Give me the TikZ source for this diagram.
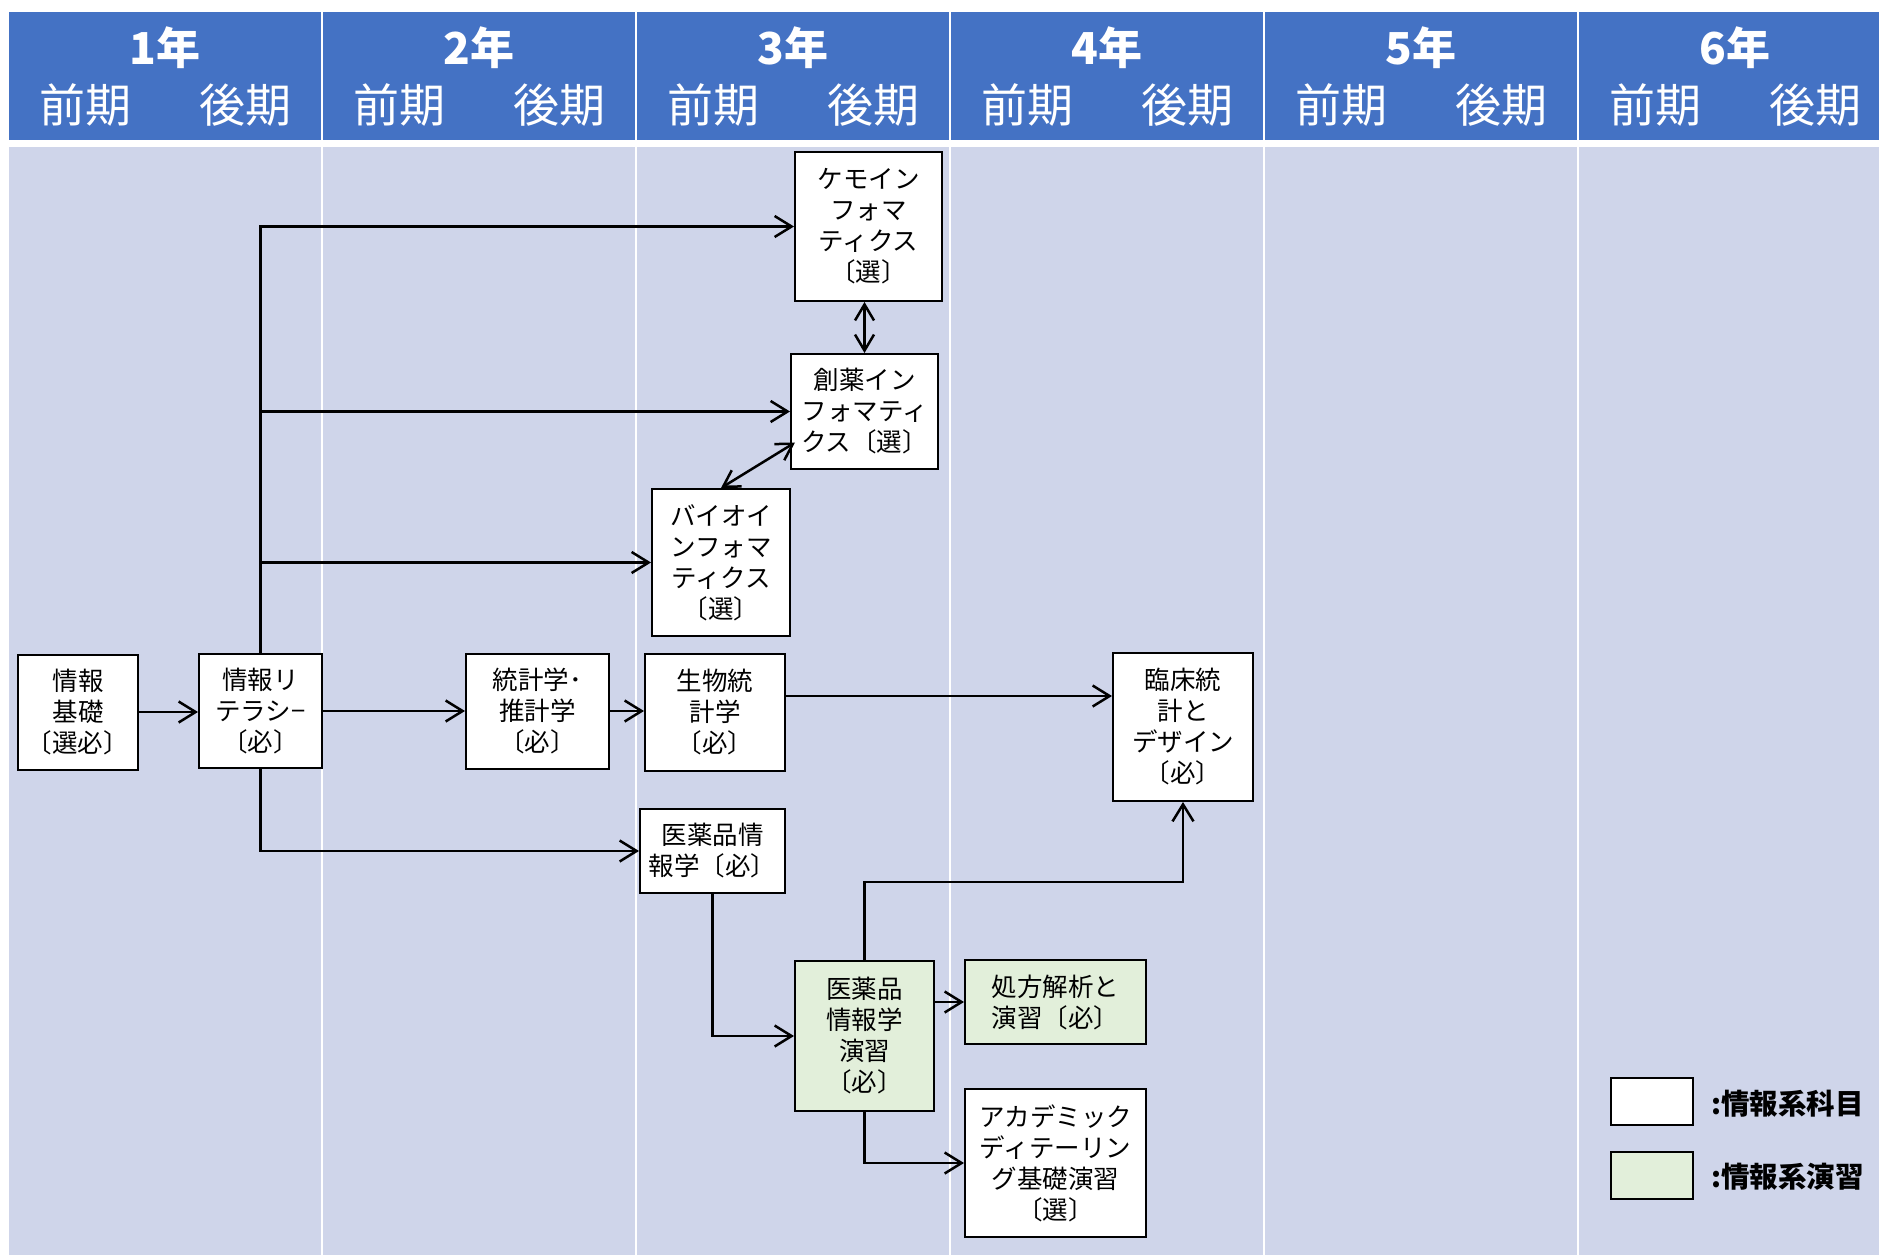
\documentclass[tikz,border=0pt]{standalone}
\usepackage{fontspec}
\setmainfont{Noto Sans CJK JP}
\usetikzlibrary{arrows.meta}
\definecolor{hdr}{HTML}{4472C4}
\definecolor{bodyc}{HTML}{CFD5EA}
\definecolor{ensc}{HTML}{E2EFDA}
\begin{document}
\begin{tikzpicture}[x=1pt,y=-1pt,
  course/.style={draw=black,line width=2pt,fill=white,align=center,inner sep=0pt,font=\fontsize{25.5}{31}\selectfont},
  practice/.style={course,fill=ensc},
  arr/.style={line width=2.5pt,-{Straight Barb[length=17pt,width=21pt]}},
  dbl/.style={line width=2.5pt,{Straight Barb[length=16pt,width=19pt]}-{Straight Barb[length=16pt,width=19pt]}},
  yeartext/.style={text=white,font=\fontsize{44}{44}\selectfont\bfseries},
  termtext/.style={text=white,font=\fontsize{46}{46}\selectfont},
  legbox/.style={draw=black,line width=2pt,minimum width=82pt,minimum height=47pt,inner sep=0pt},
  legtext/.style={anchor=west,inner sep=0pt,font=\fontsize{28.5}{28.5}\selectfont\bfseries},
]
\fill[white] (0,0) rectangle (1879,1255);
\useasboundingbox (0,0) rectangle (1879,1255);
\foreach \i in {1,...,6}{
  \pgfmathsetmacro\xa{8+314*(\i-1)}
  \fill[hdr] (\xa+1,12) rectangle (\xa+313,140);
  \fill[bodyc] (\xa+1,147) rectangle (\xa+313,1255);
  \node[yeartext] (year\i) at (\xa+157,48) {\i 年};
  \node[termtext] (zen\i) at (\xa+77,105) {前期};
  \node[termtext] (kou\i) at (\xa+237,105) {後期};
}
% courses
\node[course,minimum width=120pt,minimum height=115pt] (kiso) at (78,712) {情報\\基礎\\〔選必〕};
\node[course,minimum width=123pt,minimum height=114pt] (lit) at (260.5,711) {情報リ\\テラシ−\\〔必〕};
\node[course,minimum width=143pt,minimum height=115pt] (toukei) at (537.5,711) {統計学･\\推計学\\〔必〕};
\node[course,minimum width=140pt,minimum height=117pt] (seibutsu) at (715,712) {生物統\\計学\\〔必〕};
\node[course,minimum width=140pt,minimum height=148pt] (rinsho) at (1183,727) {臨床統\\計と\\デザイン\\〔必〕};
\node[course,minimum width=145pt,minimum height=84pt] (ipi) at (712.5,851) {医薬品情\\報学〔必〕};
\node[practice,minimum width=139pt,minimum height=150pt] (ens) at (864.5,1036) {医薬品\\情報学\\演習\\〔必〕};
\node[practice,minimum width=181pt,minimum height=84pt] (shohou) at (1055.5,1002) {処方解析と\\演習〔必〕};
\node[course,minimum width=181pt,minimum height=148pt] (aca) at (1055.5,1163) {アカデミック\\ディテーリン\\グ基礎演習\\〔選〕};
\node[course,minimum width=147pt,minimum height=149pt] (chemo) at (868.5,226.5) {ケモイン\\フォマ\\ティクス\\〔選〕};
\node[course,minimum width=147pt,minimum height=115pt] (souyaku) at (864.5,411.5) {創薬イン\\フォマティ\\クス〔選〕};
\node[course,minimum width=138pt,minimum height=147pt] (bio) at (721,562.5) {バイオイ\\ンフォマ\\ティクス\\〔選〕};
% connectors
\draw[arr] (kiso.east) -- (kiso.east -| lit.west);
\draw[arr] (lit.east |- toukei.west) -- (toukei.west);
\draw[arr] (toukei.east) -- (toukei.east -| seibutsu.west);
\draw[arr] (seibutsu.east |- 0,696) -- (rinsho.west |- 0,696);
\draw[arr] (lit.north) |- (chemo.west);
\draw[arr] (lit.north |- souyaku.west) -- (souyaku.west);
\draw[arr] (lit.north |- bio.west) -- (bio.west);
\draw[arr] (lit.south) |- (ipi.west);
\draw[arr] (ipi.south) |- (ens.west);
\coordinate (bend) at (1183,882);
\draw[arr] (ens.north) |- (bend) -- (rinsho.south);
\draw[arr] (ens.east |- shohou.west) -- (shohou.west);
\draw[arr] (ens.south) |- (aca.west);
\draw[dbl] (souyaku.north) -- (souyaku.north |- chemo.south);
\draw[dbl] (bio.north) -- ([xshift=5pt,yshift=-31pt]souyaku.west);
% legend
\node[legbox,fill=white] (legA) at (1652,1101) {};
\node[legbox,fill=ensc] (legB) at (1652,1175) {};
\node[legtext] (legAt) at (1711,1104) {:情報系科目};
\node[legtext] (legBt) at (1711,1177) {:情報系演習};
\end{tikzpicture}
\end{document}
